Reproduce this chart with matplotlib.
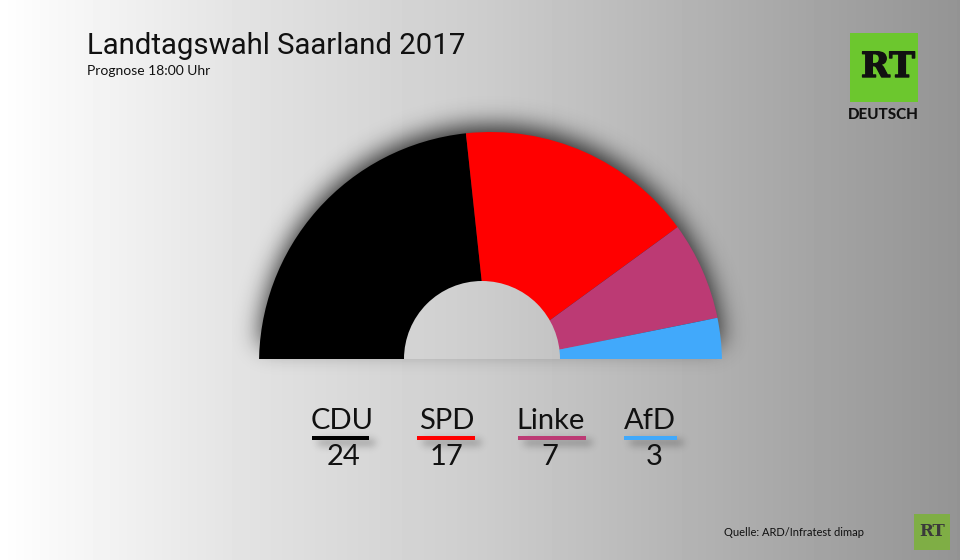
#!/usr/bin/env python3

import matplotlib
matplotlib.use('Agg')
import matplotlib.pyplot as plt
import numpy as np
import matplotlib.patheffects as pe
from matplotlib.patches import Wedge, Rectangle

parties = ['CDU', 'SPD', 'Linke', 'AfD']
seats = [24, 17, 7, 3]
party_colors = ['#000000', '#ff0000', '#bc3a74', '#41a9fb']

title = 'Landtagswahl Saarland 2017'
subtitle = 'Prognose 18:00 Uhr'
source = 'Quelle: ARD/Infratest dimap'

plt.rcParams['font.family'] = ['Lato', 'DejaVu Sans']


def blur(mask, sigma):
    size = int(sigma * 3)
    kernel = np.exp(-0.5 * (np.arange(-size, size + 1) / sigma) ** 2)
    kernel /= kernel.sum()
    out = np.apply_along_axis(lambda m: np.convolve(m, kernel, mode='same'), 0, mask)
    return np.apply_along_axis(lambda m: np.convolve(m, kernel, mode='same'), 1, out)


fig = plt.figure(figsize=(9.6, 5.6), dpi=100)
ax = fig.add_axes([0, 0, 1, 1])

# background gradient, left to right
xs = np.arange(960)
grey = np.interp(xs, [0, 40, 250, 480, 700, 850, 960], [255, 250, 226, 205, 178, 160, 148])
bg = np.tile(grey / 255, (2, 1))
ax.imshow(bg, extent=[0, 960, 560, 0], cmap='gray', vmin=0, vmax=1, aspect='auto', zorder=0)

cx, cy, radius = 490.5, 363.5, 231.5
base_y = 359

# legend positions
name_x = [342, 447, 551, 650]
value_x = [343, 447, 550, 654]
line_left = [312, 417, 518, 624]
line_right = [369, 475, 586, 677]

# soft shadows behind the half circle and the legend lines
yy, xx = np.mgrid[0:560, 0:960]
arc_mask = (((xx - cx) ** 2 + (yy - cy + 7) ** 2 < radius ** 2) & (yy < base_y - 14)).astype(float)
shadow = blur(arc_mask, 12) * 0.8
line_mask = np.zeros_like(shadow)
for left, right in zip(line_left, line_right):
    line_mask[440:445, left + 6:right + 6] = 1
shadow = np.maximum(shadow, blur(line_mask, 4) * 0.35)
rgba = np.zeros((560, 960, 4))
rgba[..., 3] = shadow
ax.imshow(rgba, extent=[0, 960, 560, 0], aspect='auto', zorder=1)

# half circle
base_clip = Rectangle((0, 0), 960, base_y, transform=ax.transData)
total = sum(seats)
start = 179.2
for value, color in zip(seats, party_colors):
    end = start + value / total * 180
    wedge = Wedge((cx, cy), radius, start, end, facecolor=color, edgecolor='none', zorder=2)
    ax.add_patch(wedge)
    wedge.set_clip_path(base_clip)
    start = end

# the hole shows the background again
hole_im = ax.imshow(bg, extent=[0, 960, 560, 0], cmap='gray', vmin=0, vmax=1, aspect='auto', zorder=3)
hole = Wedge((482, base_y), 78, 180, 360, facecolor='none', edgecolor='none')
ax.add_patch(hole)
hole_im.set_clip_path(hole)

ax.set_xlim(0, 960)
ax.set_ylim(560, 0)
ax.axis('off')

# legend
for i, name in enumerate(parties):
    ax.text(name_x[i], 421, name, fontsize=21, ha='center', va='center', color='#111111', zorder=5)
    ax.text(value_x[i], 457, str(seats[i]), fontsize=21, ha='center', va='center', color='#111111', zorder=5)
    ax.add_patch(Rectangle((line_left[i], 436), line_right[i] - line_left[i], 4,
                           facecolor=party_colors[i], edgecolor='none', zorder=4))

# header
ax.text(87, 46, title, fontsize=21.2, family=['Roboto', 'Lato'],
        ha='left', va='center', color='#111111', zorder=5)
ax.text(87, 71, subtitle, fontsize=10, ha='left', va='center', color='#111111', zorder=5)
ax.text(724, 532, source, fontsize=8, ha='left', va='center', color='#111111', zorder=5)

# logos
stroke = [pe.withStroke(linewidth=1, foreground='#111111')]
ax.add_patch(Rectangle((849.5, 33), 68.5, 69, facecolor='#6cc72e', edgecolor='none', zorder=4))
ax.text(888, 67, 'RT', fontsize=25, fontweight='bold', family=['DejaVu Serif'], ha='center', va='center',
        color='#111111', path_effects=stroke, zorder=5)
ax.text(883, 115, 'DEUTSCH', fontsize=11, fontweight='black', ha='center', va='center', color='#111111', zorder=5)
ax.add_patch(Rectangle((914, 514), 36, 36, facecolor='#7fae45', edgecolor='none', zorder=4))
ax.text(932, 531, 'RT', fontsize=12, fontweight='bold', family=['DejaVu Serif'], ha='center', va='center',
        color='#3a3a3a', zorder=5)

fig.savefig('out.png', dpi=100)
